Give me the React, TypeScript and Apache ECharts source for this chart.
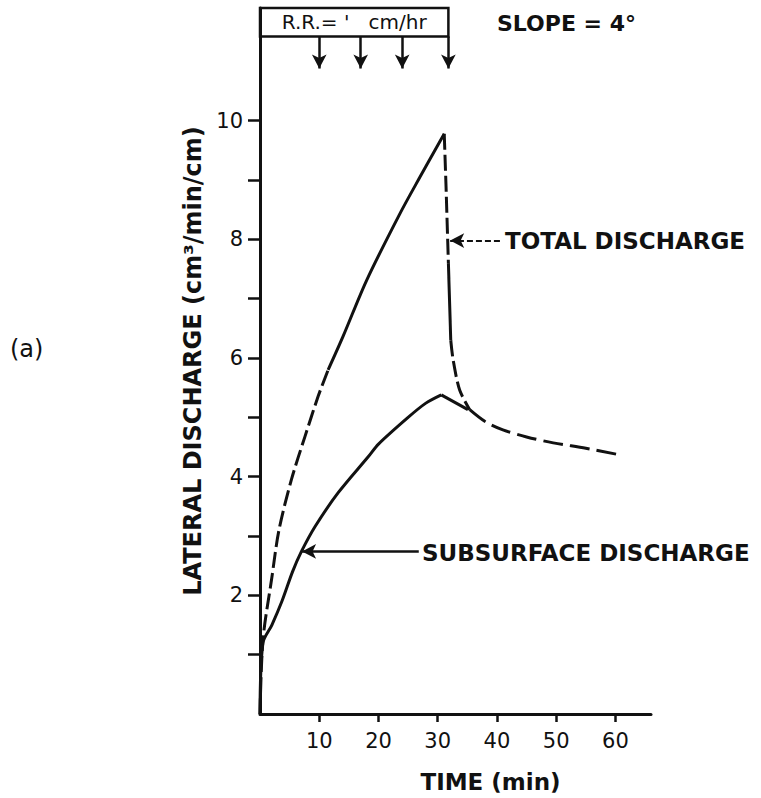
import React, { useEffect, useRef } from "react";
import * as echarts from "echarts";

// ---- data (minutes, cm^3/min/cm) ----
const totalTime = [0, 0.5, 2.0, 3.2, 5.3, 7.6, 9.8, 11.5, 14, 18, 23.6, 27, 31.1, 31.4, 31.8, 32.2, 32.6, 33.7, 35.4];
const totalValue = [0, 1.25, 2.3, 3.1, 3.95, 4.68, 5.35, 5.8, 6.36, 7.31, 8.43, 9.05, 9.78, 8.9, 7.6, 6.3, 5.97, 5.46, 5.13];

const subTime = [0, 0.5, 2.0, 3.7, 5.5, 7.0, 9.3, 13.2, 18.3, 20, 25, 28, 30.6, 35.1];
const subValue = [0, 1.2, 1.5, 1.9, 2.4, 2.74, 3.16, 3.73, 4.34, 4.55, 5.0, 5.24, 5.38, 5.13];

const recessionTime = [35.4, 38, 41, 45, 49.5, 55, 60.1];
const recessionValue = [5.13, 4.93, 4.79, 4.67, 4.57, 4.48, 4.38];

const rainArrowTimes = [10, 17, 24, 31.8];
const xTicks = [10, 20, 30, 40, 50, 60];
const yTicks = [1, 2, 3, 4, 5, 6, 7, 8, 9, 10];
const yLabels = [2, 4, 6, 8, 10];

const INK = "#111";
const FONT = "DejaVu Sans";

function pairs(ts: number[], vs: number[], a: number, b: number) {
  return ts.slice(a, b + 1).map((t, i) => [t, vs[a + i]]);
}

function seg(name: string, data: number[][], dashed: boolean, smooth: boolean) {
  return {
    name,
    type: "line",
    data,
    showSymbol: false,
    silent: true,
    smooth: smooth ? 0.3 : false,
    lineStyle: { color: INK, width: 3, type: dashed ? [16, 5] : "solid" },
    z: 3,
  };
}

export default function App() {
  const ref = useRef<HTMLDivElement>(null);
  useEffect(() => {
    if (!ref.current) return;
    const chart = echarts.init(ref.current, null, { renderer: "svg" });
    const textStyle = { fontFamily: FONT, color: INK };
    chart.setOption({
      animation: false,
      backgroundColor: "#fff",
      grid: { left: 260, top: 8, width: 391, bottom: 83 },
      xAxis: {
        type: "value",
        min: 0,
        max: 66,
        name: "TIME (min)",
        nameLocation: "middle",
        nameGap: 56,
        nameTextStyle: { ...textStyle, fontSize: 23, fontWeight: "bold", padding: [0, 0, 0, 70] },
        axisLine: { show: true, lineStyle: { color: INK, width: 3 } },
        axisTick: { show: true, length: 8, customValues: xTicks, lineStyle: { color: INK, width: 2.5 } },
        axisLabel: { customValues: xTicks, margin: 16, fontSize: 21, ...textStyle },
        splitLine: { show: false },
      },
      yAxis: {
        type: "value",
        min: 0,
        max: 11.9,
        name: "LATERAL DISCHARGE (cm³/min/cm)",
        nameLocation: "middle",
        nameGap: 30,
        nameTextStyle: { ...textStyle, fontSize: 24, fontWeight: "bold" },
        axisLine: { show: true, lineStyle: { color: INK, width: 3 } },
        axisTick: { show: true, length: 12, customValues: yTicks, lineStyle: { color: INK, width: 2.5 } },
        axisLabel: { customValues: yLabels, margin: 17, fontSize: 21, ...textStyle },
        splitLine: { show: false },
      },
      series: [
        seg("Total discharge (rise, early)", pairs(totalTime, totalValue, 0, 7), true, true),
        seg("Total discharge (rise)", pairs(totalTime, totalValue, 7, 12), false, true),
        seg("Total discharge (drop 1)", pairs(totalTime, totalValue, 12, 14), true, false),
        seg("Total discharge (drop 2)", pairs(totalTime, totalValue, 14, 15), false, false),
        seg("Total discharge (drop 3)", pairs(totalTime, totalValue, 15, 18), true, true),
        seg("Subsurface discharge", pairs(subTime, subValue, 0, 12), false, true),
        seg("Subsurface discharge (after peak)", pairs(subTime, subValue, 12, 13), false, false),
        {
          ...seg("Recession", recessionTime.map((t, i) => [t, recessionValue[i]]), true, true),
          lineStyle: { color: INK, width: 3, type: [20, 7] },
          markArea: {
            silent: true,
            itemStyle: { color: "rgba(0,0,0,0)", borderColor: INK, borderWidth: 2.5 },
            label: {
              show: true,
              position: "inside",
              formatter: "R.R.= '   cm/hr",
              fontFamily: FONT,
              fontSize: 20,
              color: INK,
            },
            data: [[{ coord: [0, 11.9] }, { coord: [31.8, 11.42] }]],
          },
          markLine: {
            silent: true,
            symbol: ["none", "arrow"],
            symbolSize: [11, 14],
            label: { show: false },
            lineStyle: { color: INK, width: 2.5, type: "solid" },
            data: [
              ...rainArrowTimes.map((t) => [
                { coord: [t, 11.42] },
                { coord: [t, 10.88] },
              ]),
              [
                { coord: [40.5, 7.98], lineStyle: { type: [6, 3], width: 2 } },
                { coord: [32.1, 7.98] },
              ],
              [
                { coord: [26.8, 2.74], lineStyle: { type: "solid", width: 2.5 } },
                { coord: [7.1, 2.74] },
              ],
            ],
          },
        },
      ],
      graphic: [
        { type: "text", left: 10, top: 337, style: { text: "(a)", font: `24px "${FONT}"`, fill: INK } },
        { type: "text", left: 497, top: 12, style: { text: "SLOPE = 4°", font: `bold 22px "${FONT}"`, fill: INK } },
        { type: "text", left: 505, top: 229, style: { text: "TOTAL DISCHARGE", font: `bold 23px "${FONT}"`, fill: INK } },
        { type: "text", left: 422, top: 541, style: { text: "SUBSURFACE DISCHARGE", font: `bold 23px "${FONT}"`, fill: INK } },
      ],
    });
    return () => chart.dispose();
  }, []);
  return <div ref={ref} style={{ position: "absolute", left: 0, top: 0, width: 761, height: 798 }} />;
}
